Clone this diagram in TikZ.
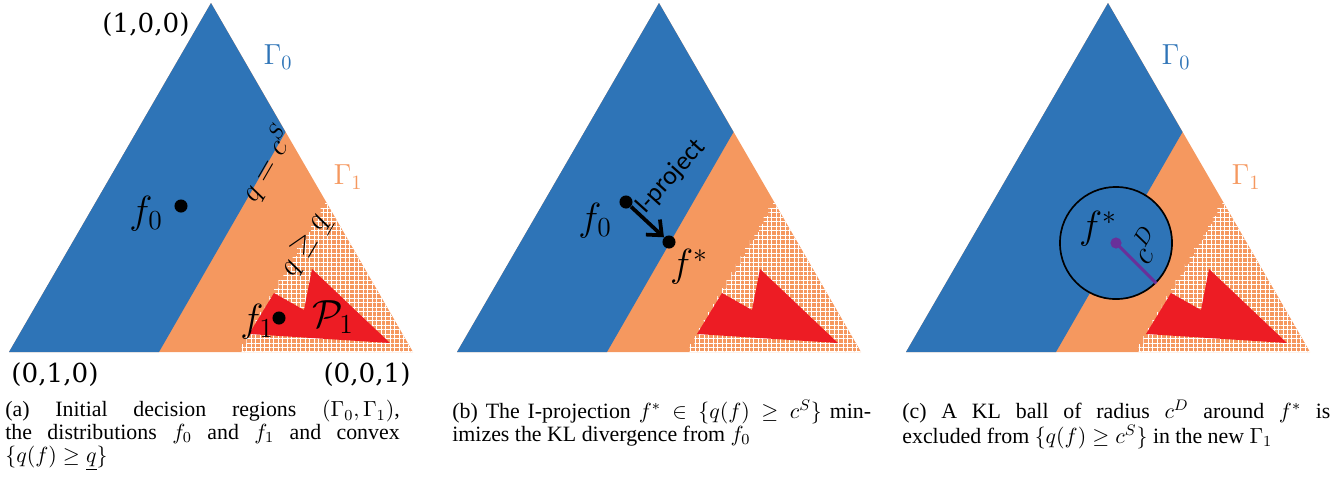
\RequirePackage{fix-cm}
\documentclass[tikz,border=0pt]{standalone}
\usepackage{fontspec}
\setmainfont{Liberation Serif}
\newfontfamily\cornerfont{DejaVu Serif}
\newfontfamily\sanslabel{Carlito}
\definecolor{simplexblue}{HTML}{2E74B7}
\definecolor{simplexorange}{HTML}{F5985F}
\definecolor{setred}{HTML}{ED1C24}
\definecolor{ballpurple}{HTML}{69309A}
\usetikzlibrary{calc, positioning, arrows.meta, patterns.meta}

% the simplex with the two decision regions, the hatched set and P_1
\newcommand{\drawsimplex}{%
  \fill[simplexorange] (211,3) -- (9,352) -- (413,352) -- cycle;
  \fill[simplexblue] (211,3) -- (9,352) -- (159,352) -- (285.5,132) -- cycle;
  \fill[hgrid, postaction={vgrid}] (325,200)
    \foreach \k in {1,...,19} { -- ++(0,8) -- ++(-4.63,0) } -- (413,352) -- cycle;
  \fill[setred] (249,334) -- (274,293) -- (304,310) -- (312,269) -- (390,343) -- cycle;
}

\begin{document}
\begin{tikzpicture}[x=0.535pt, y=-0.535pt,
  hgrid/.style={pattern={Lines[angle=0, distance=2.4pt, line width=0.5pt]}, pattern color=white},
  vgrid/.style={pattern={Lines[angle=90, distance=2.4pt, line width=0.5pt]}, pattern color=white},
  vertexlabel/.style={font=\cornerfont\fontsize{14}{16}\selectfont, inner sep=0pt},
  distlabel/.style={font=\fontsize{21}{24}\selectfont, inner sep=0pt},
  regionlabel/.style={font=\fontsize{15.5}{18}\selectfont, inner sep=0pt},
  linelabel/.style={font=\fontsize{16}{18}\selectfont, rotate=60, inner sep=0pt},
  distdot/.style={circle, fill=black, inner sep=0pt, minimum size=7pt},
  capbox/.style={anchor=north west, align=justify, inner sep=0pt,
    font=\rmfamily\fontsize{11.7}{12.2}\selectfont}]
  \useasboundingbox (0,0) rectangle (1337,491);

  % (a) initial decision regions
  \drawsimplex
  \node[vertexlabel] (a-e1) at (146,25) {(1,0,0)};
  \node[vertexlabel] (a-e2) at (55,375) {(0,1,0)};
  \node[vertexlabel] (a-e3) at (367,375) {(0,0,1)};
  \node[regionlabel, text=simplexblue] (a-gam0) at (278,57) {$\Gamma_0$};
  \node[regionlabel, text=simplexorange] (a-gam1) at (348,177) {$\Gamma_1$};
  \node[linelabel] (a-cs) at (267,164) {$q=c^S$};
  \node[linelabel] (a-qlow) at (306,246) {$q\geq\underline{q}$};
  \node[distdot] (a-f0) at (181,206) {};
  \node[distlabel] (a-f0lab) at (146,214) {$f_0$};
  \node[distdot] (a-f1) at (279,318) {};
  \node[distlabel] (a-f1lab) at (257,322) {$f_1$};
  \node[distlabel] (a-p1) at (333,317) {$\mathcal{P}_1$};

  % (b) I-projection
  \begin{scope}[shift={(448,0)}]
    \drawsimplex
    \node[distdot] (b-f0) at (178,202) {};
    \node[distdot] (b-fstar) at (221,242) {};
    \node[distlabel] (b-f0lab) at (147,221) {$f_0$};
    \node[distlabel] (b-fstarlab) at (241,267) {$f^*$};
    \node[font=\sanslabel\fontsize{14}{16}\selectfont, rotate=48, inner sep=0pt] (b-proj) at (223,177) {I-project};
    \draw[line width=2pt, -{Straight Barb[length=6.5pt, width=11pt]}] (b-f0) -- (b-fstar);
  \end{scope}

  % (c) KL ball excluded from Gamma_1
  \begin{scope}[shift={(897,0)}]
    \drawsimplex
    \node[regionlabel, text=simplexblue] (c-gam0) at (279,57) {$\Gamma_0$};
    \node[regionlabel, text=simplexorange] (c-gam1) at (349,177) {$\Gamma_1$};
    \node[circle, draw=black, line width=0.9pt, fill=simplexblue, inner sep=0pt,
      minimum size=60pt] (c-ball) at (219,243) {};
    \node[circle, fill=ballpurple, inner sep=0pt, minimum size=6pt] (c-fstar) at (219,243) {};
    \draw[ballpurple, line width=1.6pt] (c-fstar.center) -- (c-ball.-45);
    \node[distlabel] (c-fstarlab) at (201,229) {$f^*$};
    \node[font=\fontsize{17}{19}\selectfont, rotate=60, inner sep=0pt] (c-rad) at (248,245) {$c^D$};
  \end{scope}

  % captions
  \node[capbox, text width=211pt] (cap-a) at (5,400)
    {(a) Initial decision regions $(\Gamma_0,\Gamma_1)$,\linebreak
     the distributions $f_0$ and $f_1$ and convex\linebreak
     $\bigl\{q(f)\geq\underline{q}\bigr\}$};
  \node[capbox, text width=224pt] (cap-b) at (452,400)
    {(b) The I-projection $f^*\in\bigl\{q(f)\geq c^S\bigr\}$ min-\linebreak
     imizes the KL divergence from $f_0$};
  \node[capbox, text width=229pt] (cap-c) at (902,400)
    {(c) A KL ball of radius $c^D$ around $f^*$ is\linebreak
     excluded from $\bigl\{q(f)\geq c^S\bigr\}$ in the new $\Gamma_1$};
\end{tikzpicture}
\end{document}
